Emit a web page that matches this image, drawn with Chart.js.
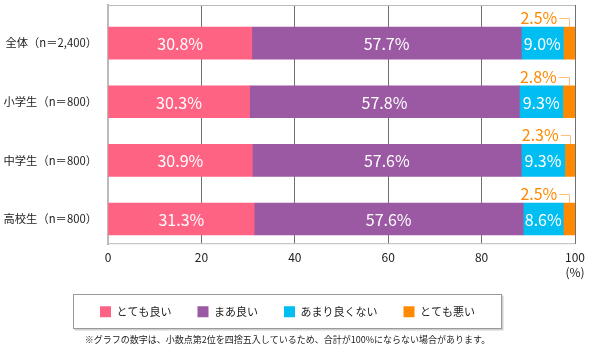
<!DOCTYPE html>
<html>
<head>
<meta charset="utf-8">
<script src="https://cdn.jsdelivr.net/npm/chart.js@4"></script>
<style>
  html, body { margin: 0; padding: 0; background: #fff; }
  #wrap { width: 591px; height: 347px; }
</style>
</head>
<body>
<div id="wrap"><canvas id="chart" width="591" height="347"></canvas></div>
<script>
// データ
const groups = ["全体（n＝2,400）", "小学生（n＝800）", "中学生（n＝800）", "高校生（n＝800）"];
const answers = ["とても良い", "まあ良い", "あまり良くない", "とても悪い"];
const veryGood = [30.8, 30.3, 30.9, 31.3];
const good = [57.7, 57.8, 57.6, 57.6];
const notGood = [9.0, 9.3, 9.3, 8.6];
const veryBad = [2.5, 2.8, 2.3, 2.5];
const xTicks = [0, 20, 40, 60, 80, 100];
const note = "※グラフの数字は、小数点第2位を四捨五入しているため、合計が100%にならない場合があります。";

const colors = ["#FF6384", "#9B59A4", "#00BEF2", "#FF8A00"];
const FONT = "'Noto Sans CJK JP', 'Noto Sans', sans-serif";

// 枠線（上下）と凡例の囲み
const framePlugin = {
    id: "frame",
    beforeDatasetsDraw(chart) {
        const { ctx, chartArea } = chart;
        ctx.save();
        ctx.strokeStyle = "#bbbbbb";
        ctx.lineWidth = 1;
        ctx.beginPath();
        ctx.moveTo(chartArea.left, chartArea.top + 0.5);
        ctx.lineTo(chartArea.right, chartArea.top + 0.5);
        ctx.moveTo(chartArea.left, chartArea.bottom - 0.5);
        ctx.lineTo(chartArea.right, chartArea.bottom - 0.5);
        ctx.stroke();
        ctx.restore();
    },
    afterDraw(chart) {
        const boxes = chart.legend.legendHitBoxes;
        if (!boxes || !boxes.length) return;
        const first = boxes[0];
        const last = boxes[boxes.length - 1];
        const cy = first.top + first.height / 2;
        const left = Math.round(first.left - 27) + 0.5;
        const right = Math.round(last.left + last.width + 26) + 0.5;
        const top = Math.round(cy - 18) + 0.5;
        const bottom = Math.round(cy + 16) + 0.5;
        const ctx = chart.ctx;
        ctx.save();
        ctx.strokeStyle = "#d0d0d0";
        ctx.lineWidth = 2;
        ctx.beginPath();
        ctx.moveTo(left + 1, bottom + 1);
        ctx.lineTo(right + 1, bottom + 1);
        ctx.lineTo(right + 1, top + 1);
        ctx.stroke();
        ctx.strokeStyle = "#999999";
        ctx.lineWidth = 1;
        ctx.strokeRect(left, top, right - left, bottom - top);
        ctx.restore();
    }
};

// 数値ラベル
const valueLabels = {
    id: "valueLabels",
    afterDatasetsDraw(chart) {
        const ctx = chart.ctx;
        ctx.save();
        ctx.font = "16px " + FONT;
        ctx.textBaseline = "middle";
        chart.data.datasets.forEach((ds, i) => {
            const meta = chart.getDatasetMeta(i);
            meta.data.forEach((bar, j) => {
                const text = ds.data[j].toFixed(1) + "%";
                const cx = (bar.x + bar.base) / 2;
                if (i < 3) {
                    ctx.fillStyle = "#ffffff";
                    ctx.textAlign = "center";
                    ctx.fillText(text, cx, bar.y + 1);
                } else {
                    const barTop = bar.y - bar.height / 2;
                    const ty = barTop - 9;
                    const tx = bar.base - 6;
                    ctx.fillStyle = ds.backgroundColor;
                    ctx.textAlign = "right";
                    ctx.fillText(text, tx, ty);
                    ctx.strokeStyle = "#FFBE7A";
                    ctx.lineWidth = 1;
                    ctx.beginPath();
                    ctx.moveTo(tx + 2, Math.round(ty) + 0.5);
                    ctx.lineTo(Math.round(cx) + 0.5, Math.round(ty) + 0.5);
                    ctx.lineTo(Math.round(cx) + 0.5, barTop);
                    ctx.stroke();
                }
            });
        });
        ctx.restore();
    }
};

const series = [veryGood, good, notGood, veryBad];

new Chart(document.getElementById("chart"), {
    type: "bar",
    data: {
        labels: groups,
        datasets: answers.map((name, i) => ({
            label: name,
            data: series[i],
            backgroundColor: colors[i],
            borderWidth: 0,
            barThickness: 32
        }))
    },
    options: {
        indexAxis: "y",
        responsive: false,
        devicePixelRatio: 1,
        animation: false,
        layout: { padding: { top: 5, right: 16, left: 0, bottom: 0 } },
        scales: {
            x: {
                stacked: true,
                min: 0,
                max: 100,
                afterBuildTicks(scale) {
                    scale.ticks = xTicks.map(v => ({ value: v }));
                },
                afterFit(scale) {
                    scale.height = 36;
                },
                grid: { color: "#707070", lineWidth: 1, drawTicks: false },
                border: { display: false },
                ticks: {
                    color: "#222222",
                    font: { family: FONT, size: 12, lineHeight: 1.25 },
                    padding: 6,
                    maxRotation: 0,
                    callback: v => v === 100 ? ["100", "(%)"] : String(v)
                }
            },
            y: {
                stacked: true,
                afterBuildTicks(scale) {
                    // 全体の行だけ上に寄せたいので、カテゴリ軸の範囲を少し広げる
                    scale._startValue = -0.65;
                    scale._valueRange = 4.08;
                },
                afterFit(scale) {
                    scale.width = 108;
                    scale.paddingTop = 0;
                    scale.paddingBottom = 0;
                },
                grid: { display: false, drawTicks: false },
                border: { display: true, color: "#bbbbbb", width: 2 },
                ticks: {
                    color: "#222222",
                    font: { family: FONT, size: 11.3 },
                    padding: 11
                }
            }
        },
        plugins: {
            legend: {
                position: "bottom",
                labels: {
                    boxWidth: 11,
                    boxHeight: 11,
                    padding: 26,
                    color: "#222222",
                    font: { family: FONT, size: 11 }
                }
            },
            subtitle: {
                display: true,
                position: "bottom",
                text: note,
                color: "#222222",
                font: { family: FONT, size: 9, weight: "normal" },
                padding: { top: 7, bottom: 2 }
            },
            tooltip: { enabled: false }
        }
    },
    plugins: [framePlugin, valueLabels]
});
</script>
</body>
</html>
